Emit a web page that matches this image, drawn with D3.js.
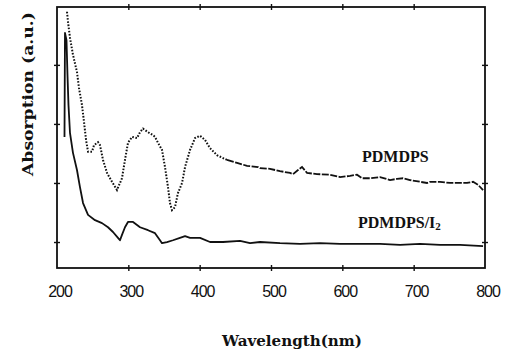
<!DOCTYPE html>
<html>
<head>
<meta charset="utf-8">
<script src="https://cdn.jsdelivr.net/npm/d3@7"></script>
<style>
  html, body { margin: 0; padding: 0; background: #fff; }
  svg { display: block; }
</style>
</head>
<body>
<svg id="chart" width="511" height="357"></svg>
<script>
// UV-vis absorption spectra of PDMDPS before and after iodine doping
const xTickValues = [200, 300, 400, 500, 600, 700, 800];
const yTickValues = [0, 1, 2, 3];

const pdmdpsWavelength = [214.0, 215.4, 218.2, 222.4, 228.0, 230.8, 235.0, 237.9, 240.7, 243.5, 249.1, 251.9, 257.5, 260.3, 264.5, 270.1, 277.1, 284.1, 291.1, 295.3, 299.5, 305.2, 312.2, 316.4, 320.6, 327.6, 334.6, 337.4, 341.6, 347.2, 351.4, 355.6, 358.4, 361.2, 365.4, 369.6, 375.3, 379.5, 386.5, 393.5, 400.5, 407.5, 414.5, 424.3, 438.3, 452.4, 466.4, 481.8, 484.6, 498.6, 512.6, 526.7, 530.9, 537.9, 543.5, 550.5, 564.5, 582.7, 596.8, 610.8, 620.6, 627.6, 638.8, 652.8, 666.9, 676.7, 685.1, 694.9, 708.9, 718.7, 722.9, 737.0, 751.0, 765.0, 774.8, 783.2, 790.2, 797.3];
const pdmdpsAbs = [3.90, 3.73, 3.46, 3.17, 2.88, 2.61, 2.32, 2.03, 1.73, 1.53, 1.53, 1.64, 1.69, 1.64, 1.39, 1.17, 1.02, 0.88, 1.08, 1.39, 1.68, 1.78, 1.76, 1.86, 1.92, 1.86, 1.81, 1.78, 1.68, 1.56, 1.27, 0.93, 0.66, 0.54, 0.59, 0.83, 1.00, 1.27, 1.56, 1.76, 1.80, 1.73, 1.59, 1.47, 1.39, 1.34, 1.29, 1.27, 1.25, 1.24, 1.20, 1.17, 1.15, 1.22, 1.27, 1.17, 1.15, 1.14, 1.10, 1.12, 1.14, 1.08, 1.08, 1.10, 1.05, 1.07, 1.08, 1.05, 1.02, 1.00, 1.02, 1.02, 1.00, 1.00, 1.00, 1.02, 0.97, 0.88];

const dopedWavelength = [210.5, 211.2, 213.3, 214.7, 216.1, 218.2, 222.4, 228.0, 232.2, 236.5, 243.5, 253.3, 263.1, 271.5, 278.5, 285.5, 288.3, 291.1, 295.3, 299.5, 306.6, 316.4, 327.6, 337.4, 344.4, 347.2, 354.2, 362.6, 372.4, 379.5, 386.5, 400.5, 414.5, 432.7, 456.6, 470.6, 484.6, 512.6, 540.7, 568.7, 596.8, 624.8, 652.8, 680.9, 708.9, 737.0, 765.0, 797.3];
const dopedAbs = [1.78, 3.54, 3.42, 2.83, 2.32, 1.85, 1.51, 1.22, 0.93, 0.66, 0.46, 0.37, 0.32, 0.25, 0.17, 0.07, 0.03, 0.12, 0.25, 0.34, 0.34, 0.25, 0.20, 0.15, 0.03, -0.02, 0.00, 0.03, 0.07, 0.10, 0.07, 0.07, 0.00, 0.00, 0.02, -0.02, 0.00, -0.02, -0.03, -0.02, -0.03, -0.03, -0.03, -0.05, -0.03, -0.05, -0.05, -0.07];

const seriesLabels = ["PDMDPS", "PDMDPS/I", "2"];

const svg = d3.select("#chart");
const plotLeft = 57, plotRight = 485, plotTop = 7, plotBottom = 268;

const x = d3.scaleLinear().domain([200, 800]).range([plotLeft, plotRight]);
const y = d3.scaleLinear().domain([-0.44, 3.98]).range([plotBottom, plotTop]);

const ink = "#111";

// frame
svg.append("rect")
  .attr("x", plotLeft).attr("y", plotTop)
  .attr("width", plotRight - plotLeft).attr("height", plotBottom - plotTop)
  .attr("fill", "none").attr("stroke", ink).attr("stroke-width", 1.8);

// tick marks on all four sides, crossing the frame
function styleAxis(g) {
  g.select(".domain").remove();
  g.selectAll(".tick line").attr("stroke", ink).attr("stroke-width", 1.4);
}
[[d3.axisBottom, plotBottom, 3], [d3.axisBottom, plotBottom, -3], [d3.axisTop, plotTop, 3], [d3.axisTop, plotTop, -3]].forEach(([fn, pos, s]) => {
  svg.append("g").attr("transform", `translate(0,${pos})`)
    .call(fn(x).tickValues(xTickValues.slice(1, -1)).tickSize(s).tickFormat(""))
    .call(styleAxis);
});
[[d3.axisLeft, plotLeft, 3], [d3.axisLeft, plotLeft, -3], [d3.axisRight, plotRight, 3], [d3.axisRight, plotRight, -3]].forEach(([fn, pos, s]) => {
  svg.append("g").attr("transform", `translate(${pos},0)`)
    .call(fn(y).tickValues(yTickValues).tickSize(s).tickFormat(""))
    .call(styleAxis);
});

// x tick labels
svg.append("g").selectAll("text")
  .data(xTickValues)
  .join("text")
  .attr("x", d => x(d) + 3)
  .attr("y", 297)
  .attr("text-anchor", "middle")
  .attr("font-family", "Liberation Sans, Arial, sans-serif")
  .attr("font-size", 16)
  .attr("letter-spacing", -1)
  .attr("fill", ink)
  .text(d => d);

// axis titles
svg.append("text")
  .attr("x", 292).attr("y", 346)
  .attr("text-anchor", "middle")
  .attr("font-family", "DejaVu Serif, serif")
  .attr("font-weight", "bold")
  .attr("font-size", 14)
  .attr("textLength", 140)
  .attr("lengthAdjust", "spacingAndGlyphs")
  .attr("fill", ink)
  .text("Wavelength(nm)");

svg.append("text")
  .attr("transform", "translate(33,94) rotate(-90)")
  .attr("text-anchor", "middle")
  .attr("font-family", "DejaVu Serif, serif")
  .attr("font-weight", "bold")
  .attr("font-size", 14)
  .attr("textLength", 164)
  .attr("lengthAdjust", "spacingAndGlyphs")
  .attr("fill", ink)
  .text("Absorption (a.u.)");

// spectra
const line = d3.line().x(d => x(d[0])).y(d => y(d[1]));
const pdmdps = d3.zip(pdmdpsWavelength, pdmdpsAbs);
const doped = d3.zip(dopedWavelength, dopedAbs);

svg.append("path")
  .datum(pdmdps.filter(d => d[0] <= 440))
  .attr("d", line)
  .attr("fill", "none").attr("stroke", ink)
  .attr("stroke-width", 2).attr("stroke-dasharray", "1.6,1.6");

svg.append("path")
  .datum(pdmdps.filter(d => d[0] >= 438))
  .attr("d", line)
  .attr("fill", "none").attr("stroke", ink)
  .attr("stroke-width", 1.8).attr("stroke-dasharray", "7,1.5");

svg.append("path")
  .datum(doped)
  .attr("d", line)
  .attr("fill", "none").attr("stroke", ink)
  .attr("stroke-width", 1.8).attr("stroke-linejoin", "round");

// series labels
svg.append("text")
  .attr("x", 362).attr("y", 162)
  .attr("font-family", "Liberation Serif, Times New Roman, serif")
  .attr("font-weight", "bold")
  .attr("font-size", 16)
  .attr("fill", ink)
  .text(seriesLabels[0]);

const dl = svg.append("text")
  .attr("x", 358).attr("y", 228)
  .attr("font-family", "Liberation Serif, Times New Roman, serif")
  .attr("font-weight", "bold")
  .attr("font-size", 16)
  .attr("fill", ink);
dl.append("tspan").text(seriesLabels[1]);
dl.append("tspan").attr("font-size", 11).attr("dy", 2).text(seriesLabels[2]);
</script>
</body>
</html>
